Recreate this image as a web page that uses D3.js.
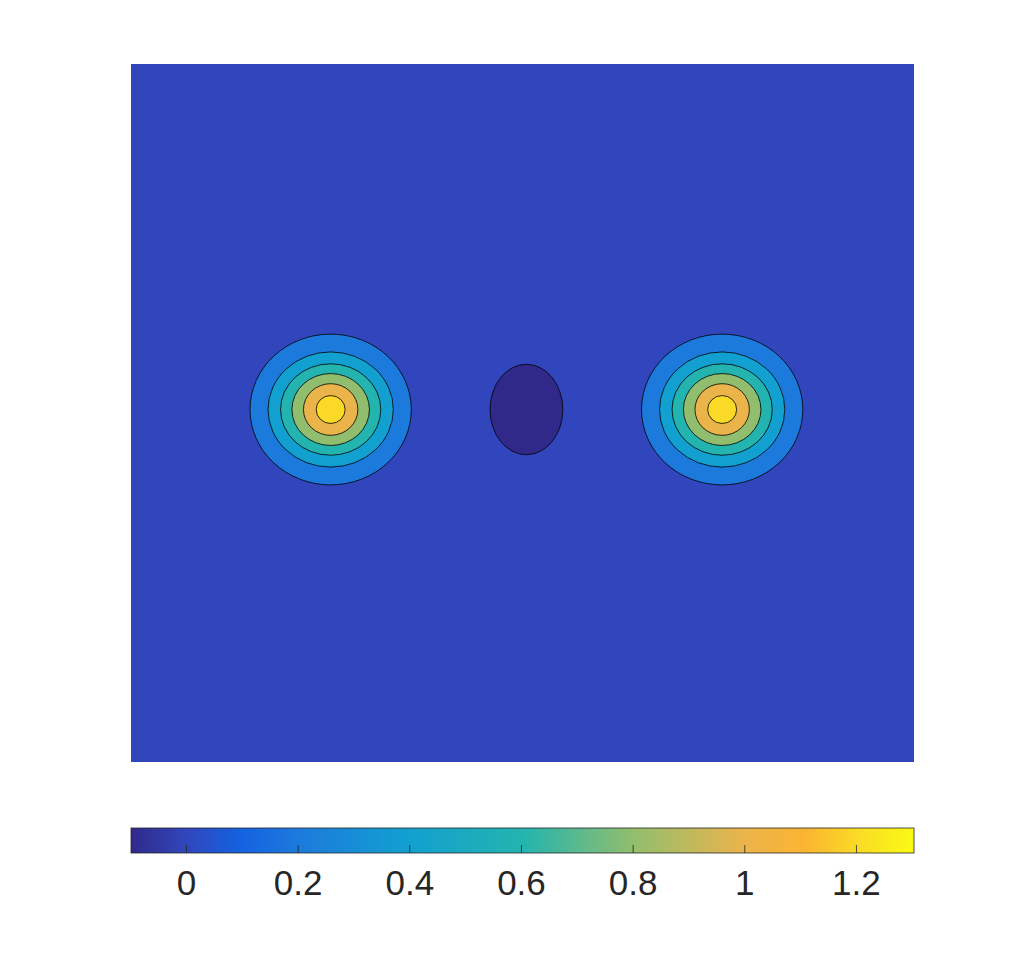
<!DOCTYPE html>
<html>
<head>
<meta charset="utf-8">
<script src="https://cdn.jsdelivr.net/npm/d3@7"></script>
<style>
  html, body { margin: 0; padding: 0; background: #ffffff; }
  svg { display: block; }
</style>
</head>
<body>
<svg id="chart" width="1010" height="973"></svg>
<script>
// ---- data ----
const levels = [0.2, 0.4, 0.6, 0.8, 1.0, 1.2];          // contour levels around each peak
const peakX = [-0.49, 0.51];                              // peak centres (x)
const peakY = [0.01, 0.01];                               // peak centres (y)
const ringRx = [0.206, 0.160, 0.128, 0.099, 0.0695, 0.037]; // x half-width of each level contour
const ringRy = [0.216, 0.165, 0.131, 0.103, 0.074, 0.040];  // y half-height of each level contour
const dipX = [0.01], dipY = [0.01], dipRx = [0.093], dipRy = [0.1295]; // negative region (level 0)
const baseLevel = 0;
const zMin = -0.0985, zMax = 1.304;
const cbTicks = [0, 0.2, 0.4, 0.6, 0.8, 1, 1.2];
const cbTickLabels = ["0", "0.2", "0.4", "0.6", "0.8", "1", "1.2"];

// colormap as it appears in the reference colorbar (position 0..1 -> colour)
const cmapPos = [0.000, 0.070, 0.140, 0.213, 0.355, 0.500, 0.640, 0.783, 0.860, 0.926, 1.000];
const cmapCol = ["#30298a", "#3146bc", "#1462e1", "#1c7adc", "#12a0d0", "#23b4af",
                 "#91be6e", "#ebb44b", "#fab432", "#fada26", "#fafa14"];

// ---- scales ----
const svg = d3.select("#chart");
const plot = { left: 131, right: 914, top: 64, bottom: 762 };
const x = d3.scaleLinear().domain([-1, 1]).range([plot.left, plot.right]);
const y = d3.scaleLinear().domain([-1, 1]).range([plot.bottom, plot.top]);

const color = d3.scaleLinear()
  .domain(cmapPos.map(p => zMin + p * (zMax - zMin)))
  .range(cmapCol)
  .interpolate(d3.interpolateRgb)
  .clamp(true);

const defs = svg.append("defs");
defs.append("clipPath").attr("id", "plotclip")
  .append("rect")
  .attr("x", plot.left).attr("y", plot.top)
  .attr("width", plot.right - plot.left).attr("height", plot.bottom - plot.top);

const g = svg.append("g").attr("clip-path", "url(#plotclip)");

// background band (between level 0 and first level)
g.append("rect")
  .attr("x", plot.left).attr("y", plot.top)
  .attr("width", plot.right - plot.left).attr("height", plot.bottom - plot.top)
  .attr("fill", color(baseLevel));

// peak rings
const rings = [];
peakX.forEach((px, p) => {
  levels.forEach((lv, k) => {
    rings.push({ cx: px, cy: peakY[p], rx: ringRx[k], ry: ringRy[k], level: lv });
  });
});
g.selectAll("ellipse.ring")
  .data(rings)
  .join("ellipse")
  .attr("class", "ring")
  .attr("cx", d => x(d.cx))
  .attr("cy", d => y(d.cy))
  .attr("rx", d => x(d.rx) - x(0))
  .attr("ry", d => y(0) - y(d.ry))
  .attr("fill", d => color(d.level))
  .attr("stroke", "#000")
  .attr("stroke-width", 0.8);

// negative dip
g.selectAll("ellipse.dip")
  .data(dipX.map((dx, i) => ({ cx: dx, cy: dipY[i], rx: dipRx[i], ry: dipRy[i] })))
  .join("ellipse")
  .attr("class", "dip")
  .attr("cx", d => x(d.cx))
  .attr("cy", d => y(d.cy))
  .attr("rx", d => x(d.rx) - x(0))
  .attr("ry", d => y(0) - y(d.ry))
  .attr("fill", color(zMin))
  .attr("stroke", "#000")
  .attr("stroke-width", 0.8);

// ---- colorbar ----
const cb = { left: 131, right: 914, top: 828, bottom: 853 };
const cx = d3.scaleLinear().domain([zMin, zMax]).range([cb.left, cb.right]);

const grad = defs.append("linearGradient")
  .attr("id", "cbgrad").attr("x1", "0%").attr("x2", "100%").attr("y1", "0%").attr("y2", "0%");
grad.selectAll("stop")
  .data(cmapPos)
  .join("stop")
  .attr("offset", d => (d * 100) + "%")
  .attr("stop-color", (d, i) => cmapCol[i]);

svg.append("rect")
  .attr("x", cb.left).attr("y", cb.top)
  .attr("width", cb.right - cb.left).attr("height", cb.bottom - cb.top)
  .attr("fill", "url(#cbgrad)");

const axis = d3.axisBottom(cx)
  .tickValues(cbTicks)
  .tickFormat((d, i) => cbTickLabels[i])
  .tickSizeInner(-8)
  .tickSizeOuter(0)
  .tickPadding(17);

const ax = svg.append("g")
  .attr("transform", `translate(0,${cb.bottom})`)
  .call(axis);
ax.select(".domain").remove();
ax.selectAll(".tick line").attr("stroke", "#262626").attr("stroke-width", 0.8);
ax.selectAll(".tick text")
  .attr("fill", "#262626")
  .style("font-family", "'Liberation Sans', Arial, Helvetica, sans-serif")
  .style("font-size", "35px");

svg.append("rect")
  .attr("x", cb.left).attr("y", cb.top)
  .attr("width", cb.right - cb.left).attr("height", cb.bottom - cb.top)
  .attr("fill", "none")
  .attr("stroke", "#262626")
  .attr("stroke-width", 0.8);
</script>
</body>
</html>
